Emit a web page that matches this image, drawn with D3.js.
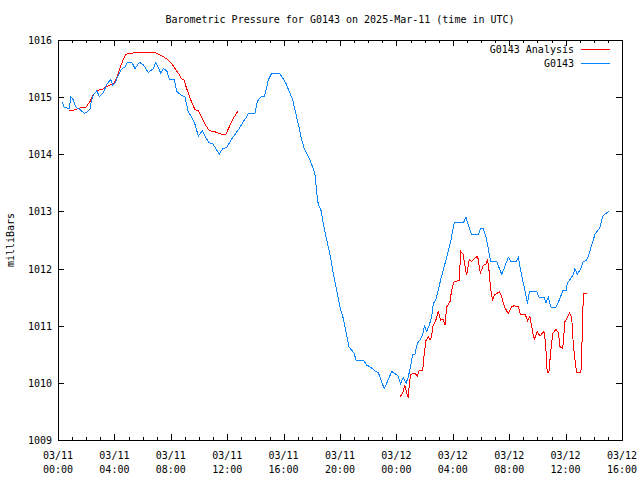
<!DOCTYPE html>
<html><head><meta charset="utf-8">
<script src="https://cdn.jsdelivr.net/npm/d3@7"></script>
<style>
html,body{margin:0;padding:0;background:#fff;}
text{font-family:"DejaVu Sans Mono","Liberation Mono",monospace;font-size:10px;fill:#000;}
</style></head>
<body>
<svg id="c" width="640" height="480"></svg>
<script>
// ---- data (time in minutes since 2025-03-11 00:00 UTC) ----
const titleText = "Barometric Pressure for G0143 on 2025-Mar-11 (time in UTC)";
const yLabel = "milliBars";
const seriesNames = ["G0143 Analysis", "G0143"];
const yTicks = [1009,1010,1011,1012,1013,1014,1015,1016];

const obsMinutes = [18,26,48,55,65,77,91,112,122,136,143,150,165,176,193,207,224,233,243,257,271,285,295,314,328,346,363,384,406,416,427,437,448,463,474,495,505,526,540,554,569,583,597,614,628,643,657,672,686,701,718,736,757,774,788,803,810,838,846,852,867,878,885,895,909,942,959,970,984,999,1008,1022,1037,1048,1061,1072,1086,1094,1101,1108,1119,1129,1140,1150,1162,1171,1183,1193,1203,1214,1224,1238,1250,1260,1268,1299,1314,1328,1349,1363,1377,1388,1405,1420,1441,1448,1458,1469,1481,1491,1501,1509,1519,1529,1540,1552,1559,1569,1580,1590,1597,1608,1618,1628,1639,1651,1661,1671,1679,1686,1725,1736,1746,1760,1789,1799,1810,1821,1831,1841,1867,1888,1902,1916,1928,1949,1959,1966,1977,1987,1998,2006,2037,2047,2068,2076,2086,2098,2119,2133,2148,2162,2167,2179,2193,2200,2210,2225,2235,2250,2261,2271,2285,2296,2306,2318,2325,2346];
const obsValues = [1014.92,1014.82,1014.80,1015.01,1014.95,1014.82,1014.79,1014.72,1014.73,1014.79,1014.95,1015.04,1015.11,1015.01,1015.08,1015.22,1015.31,1015.21,1015.25,1015.39,1015.49,1015.53,1015.61,1015.61,1015.50,1015.61,1015.57,1015.43,1015.50,1015.61,1015.52,1015.42,1015.50,1015.46,1015.31,1015.31,1015.10,1015.03,1015.01,1014.75,1014.65,1014.52,1014.32,1014.41,1014.30,1014.20,1014.19,1014.10,1014.00,1014.10,1014.12,1014.25,1014.37,1014.47,1014.57,1014.65,1014.72,1014.72,1014.89,1014.95,1015.02,1015.02,1015.12,1015.30,1015.42,1015.42,1015.32,1015.24,1015.10,1014.95,1014.78,1014.54,1014.25,1014.10,1013.99,1013.90,1013.75,1013.64,1013.32,1013.11,1013.02,1012.79,1012.56,1012.38,1012.15,1011.92,1011.68,1011.48,1011.27,1011.13,1010.92,1010.63,1010.57,1010.52,1010.40,1010.40,1010.31,1010.28,1010.21,1010.18,1010.02,1009.90,1010.05,1010.20,1010.14,1010.11,1009.99,1010.10,1009.99,1010.11,1010.31,1010.49,1010.50,1010.69,1010.75,1010.84,1011.00,1010.90,1011.01,1011.16,1011.39,1011.45,1011.62,1011.80,1011.97,1012.15,1012.32,1012.47,1012.65,1012.80,1012.80,1012.90,1012.76,1012.60,1012.60,1012.70,1012.70,1012.56,1012.35,1012.12,1012.12,1011.90,1012.04,1012.20,1012.12,1012.12,1012.20,1012.03,1011.80,1011.62,1011.39,1011.60,1011.60,1011.50,1011.50,1011.40,1011.50,1011.32,1011.32,1011.45,1011.61,1011.61,1011.74,1011.81,1011.90,1012.00,1011.90,1012.00,1012.12,1012.15,1012.27,1012.41,1012.60,1012.66,1012.72,1012.91,1012.95,1013.00];

// analysis series; null marks a gap in the record
const anaMinutes = [48,65,80,101,118,136,150,167,190,204,221,238,252,271,288,314,335,413,434,451,469,484,498,515,526,536,550,565,583,597,614,628,644,664,682,697,714,729,746,765,
 1100,
 1455,1467,1476,1484,1491,1495,1502,1519,1529,1537,1552,1557,1566,1576,1583,1590,1594,1608,1618,1628,1639,1647,1654,1668,1675,1685,1707,1714,1724,1735,1739,1750,1760,1779,1786,1797,1810,1820,1828,1834,1841,1849,1857,1878,1888,1899,1916,1930,1941,1959,1968,1989,1998,2008,2016,2022,2027,2039,2051,2068,2075,2079,2082,2089,2096,2105,2119,2129,2136,2146,2150,2157,2165,2176,2186,2193,2200,2207,2225,2229,2232,2238,2250];
const anaValues = [1014.76,1014.77,1014.79,1014.82,1014.82,1014.92,1015.04,1015.12,1015.14,1015.18,1015.21,1015.24,1015.36,1015.59,1015.75,1015.77,1015.78,1015.78,1015.74,1015.70,1015.65,1015.59,1015.50,1015.40,1015.32,1015.30,1015.12,1014.95,1014.78,1014.76,1014.63,1014.51,1014.41,1014.40,1014.37,1014.35,1014.35,1014.48,1014.63,1014.75,
 null,
 1009.75,1009.82,1009.96,1009.82,1009.73,1010.00,1010.15,1010.17,1010.12,1010.21,1010.21,1010.46,1010.74,1010.80,1010.76,1010.81,1010.98,1011.10,1011.25,1011.10,1011.11,1011.01,1011.33,1011.42,1011.62,1011.77,1011.79,1012.30,1012.25,1011.97,1011.89,1012.16,1012.12,1012.20,1012.21,1011.92,1012.06,1012.07,1012.16,1011.97,1011.65,1011.45,1011.54,1011.59,1011.51,1011.34,1011.21,1011.33,1011.35,1011.33,1011.20,1011.19,1011.09,1011.17,1010.98,1010.84,1010.76,1010.90,1010.82,1010.90,1010.70,1010.37,1010.18,1010.18,1010.52,1010.86,1010.94,1010.88,1010.64,1010.60,1010.69,1011.07,1011.13,1011.22,1011.15,1010.66,1010.40,1010.18,1010.18,1010.52,1011.22,1011.56,1011.56];

const colors = ["#ff0000", "#0a84ff"];

// ---- chart ----
const svg = d3.select("#c");
const L = 58, R = 622, T = 40, B = 440;
const t0 = Date.UTC(2025, 2, 11, 0, 0);
const toDate = m => new Date(t0 + m * 60000);
const x = d3.scaleUtc().domain([toDate(0), toDate(40 * 60)]).range([L, R]);
const y = d3.scaleLinear().domain([1009, 1016]).range([B, T]);

svg.append("text").attr("x", 340).attr("y", 23).attr("text-anchor", "middle").text(titleText);

const g = svg.append("g");
function axisStyle(sel) {
  sel.select(".domain").remove();
  sel.selectAll("line").attr("stroke", "#000").attr("shape-rendering", "crispEdges");
  sel.selectAll("text").remove();
}
const hours1 = d3.utcHour.every(1), hours4 = d3.utcHour.every(4);
g.append("g").attr("transform", `translate(0,${B})`).call(d3.axisBottom(x).ticks(hours1).tickSize(-3)).call(axisStyle);
g.append("g").attr("transform", `translate(0,${B})`).call(d3.axisBottom(x).ticks(hours4).tickSize(-6)).call(axisStyle);
g.append("g").attr("transform", `translate(0,${T})`).call(d3.axisTop(x).ticks(hours1).tickSize(-3)).call(axisStyle);
g.append("g").attr("transform", `translate(0,${T})`).call(d3.axisTop(x).ticks(hours4).tickSize(-6)).call(axisStyle);
g.append("g").attr("transform", `translate(${L},0)`).call(d3.axisLeft(y).tickValues(yTicks).tickSize(-6)).call(axisStyle);
g.append("g").attr("transform", `translate(${R},0)`).call(d3.axisRight(y).tickValues(yTicks).tickSize(-6)).call(axisStyle);

// y labels
svg.selectAll(".yl").data(yTicks).join("text").attr("class", "yl")
  .attr("x", 52).attr("y", d => y(d) + 4).attr("text-anchor", "end").text(d => d);

// x labels
const xt = x.ticks(hours4);
const fmtD = d3.utcFormat("%m/%d"), fmtH = d3.utcFormat("%H:%M");
svg.selectAll(".xl1").data(xt).join("text").attr("class", "xl1")
  .attr("x", d => x(d)).attr("y", 459).attr("text-anchor", "middle").text(fmtD);
svg.selectAll(".xl2").data(xt).join("text").attr("class", "xl2")
  .attr("x", d => x(d)).attr("y", 473).attr("text-anchor", "middle").text(fmtH);

svg.append("text").attr("transform", "translate(14,240) rotate(-90)").attr("text-anchor", "middle").text(yLabel);

// border
svg.append("rect").attr("x", L + 0.5).attr("y", T + 0.5).attr("width", R - L).attr("height", B - T)
  .attr("fill", "none").attr("stroke", "#000").attr("stroke-width", 1).attr("shape-rendering", "crispEdges");

// lines
const line = d3.line().defined(d => d[1] != null).x(d => x(toDate(d[0]))).y(d => y(d[1]));
const ana = anaMinutes.map((m, i) => [m, anaValues[i]]);
const obs = obsMinutes.map((m, i) => [m, obsValues[i]]);
svg.append("path").datum(ana).attr("d", line).attr("fill", "none").attr("stroke", colors[0])
  .attr("stroke-width", 1).attr("shape-rendering", "crispEdges");
svg.append("path").datum(obs).attr("d", line).attr("fill", "none").attr("stroke", colors[1])
  .attr("stroke-width", 1).attr("shape-rendering", "crispEdges");

// legend
const lg = svg.append("g");
seriesNames.forEach((n, i) => {
  const yy = 49 + i * 14;
  lg.append("text").attr("x", 574).attr("y", yy + 4).attr("text-anchor", "end").text(n);
  lg.append("line").attr("x1", 581).attr("x2", 610).attr("y1", yy + 0.5).attr("y2", yy + 0.5)
    .attr("stroke", colors[i]).attr("stroke-width", 1).attr("shape-rendering", "crispEdges");
});
</script>
</body></html>
